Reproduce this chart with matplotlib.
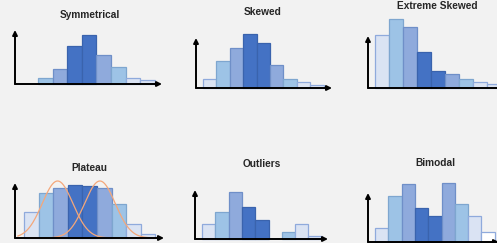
import matplotlib.pyplot as plt
import numpy as np

# === DISTRIBUTION SHAPES (bar heights) ===
titles = ["Symmetrical", "Skewed", "Extreme Skewed", "Plateau", "Outliers", "Bimodal"]

sym_h = [6, 15, 38, 49, 29, 17, 6, 4]
skew_h = [9, 27, 40, 54, 45, 23, 9, 6, 3]
xskew_h = [53, 69, 61, 36, 17, 14, 9, 6, 4]
plat_h = [26, 45, 50, 53, 52, 50, 34, 14, 4]
outl_h = [15, 27, 47, 32, 19, 0, 7, 15, 3]
bimo_h = [14, 46, 58, 34, 26, 59, 38, 26, 10]

# colour shade per bar: 0 lightest, 1 light, 2 medium, 3 dark, 4 white
sym_c = [1, 2, 3, 3, 2, 1, 0, 0]
skew_c = [0, 1, 2, 3, 3, 2, 1, 0, 0]
xskew_c = [0, 1, 2, 3, 3, 2, 1, 0, 0]
plat_c = [0, 1, 2, 3, 3, 2, 1, 0, 0]
outl_c = [0, 1, 2, 3, 3, 0, 1, 0, 0]
bimo_c = [0, 1, 2, 3, 3, 2, 1, 0, 4]

# plateau overlay: two bell curves (centre in bar units, peak, spread)
bell_centres = [2.3, 5.2]
bell_peak = 57
bell_sigma = 1.05

shades = ['#dae3f3', '#9dc3e6', '#8faadc', '#4472c4', '#ffffff']
edges = ['#8faadc', '#7ea6cf', '#6f8fc8', '#3a63ad', '#8faadc']

W, H = 497, 243
fig = plt.figure(figsize=(W / 100, H / 100), dpi=100, facecolor='#f2f2f2')

# panel geometry in pixels: y-axis x, baseline y, arrow top y, x-axis end, bar start, bar width
panels = [
    (sym_h, sym_c, 15, 84, 30, 162, 38, 14.6, (90, 15)),
    (skew_h, skew_c, 196, 88, 38, 332, 203, 13.4, (263, 12)),
    (xskew_h, xskew_c, 368, 88, 36, 505, 375, 14.0, (437, 6)),
    (plat_h, plat_c, 15, 238, 183, 164, 24, 14.6, (89, 168)),
    (outl_h, outl_c, 195, 239, 190, 328, 202, 13.3, (262, 164)),
    (bimo_h, bimo_c, 368, 242, 193, 499, 375, 13.3, (435, 163)),
]

for k, (hts, cls, yx, base, top, xend, bstart, bw, tpos) in enumerate(panels):
    ax = fig.add_axes([yx / W, (H - base) / H, (xend - yx) / W, (base - top) / H])
    ax.set_facecolor('none')
    off = (bstart - yx) / bw
    ax.set_xlim(0, (xend - yx) / bw)
    ax.set_ylim(0, base - top)
    x = np.arange(len(hts)) + off
    for xi, h, c in zip(x, hts, cls):
        if h > 0:
            ax.bar(xi, h, width=1, align='edge', color=shades[c],
                   edgecolor=edges[c], linewidth=0.9, zorder=2, clip_on=False)
    if titles[k] == "Plateau":
        xs = np.linspace(0.2, (xend - yx) / bw - 0.6, 300)
        for c0 in bell_centres:
            ys = bell_peak * np.exp(-((xs - off - c0) ** 2) / (2 * bell_sigma ** 2))
            ax.plot(xs, ys, color='#f4a77a', lw=0.9, zorder=3, clip_on=False)
    ax.annotate('', xy=(0, 1), xytext=(0, 0), xycoords='axes fraction',
                arrowprops=dict(arrowstyle='-|>', lw=1.4, color='black',
                                mutation_scale=7, shrinkA=0, shrinkB=0), zorder=5)
    ax.annotate('', xy=(1, 0), xytext=(0, 0), xycoords='axes fraction',
                arrowprops=dict(arrowstyle='-|>', lw=1.4, color='black',
                                mutation_scale=7, shrinkA=0, shrinkB=0), zorder=5)
    ax.axis('off')
    fig.text(tpos[0] / W, 1 - tpos[1] / H, titles[k], ha='center', va='center',
             fontsize=7.3, fontweight='bold', family='Liberation Sans', color='#262626')

fig.savefig('out.png', dpi=100, facecolor=fig.get_facecolor())
